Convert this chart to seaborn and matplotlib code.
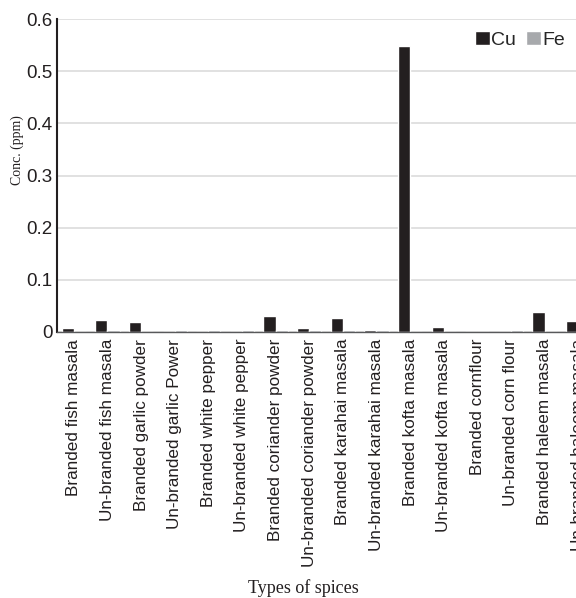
import pandas as pd
import numpy as np
import matplotlib
matplotlib.use('Agg')
import matplotlib.pyplot as plt
import seaborn as sns

# Data
spices = ['Branded fish masala', 'Un-branded fish masala', 'Branded garlic powder',
          'Un-branded garlic Power', 'Branded white pepper', 'Un-branded white pepper',
          'Branded coriander powder', 'Un-branded coriander powder', 'Branded karahai masala',
          'Un-branded karahai masala', 'Branded kofta masala', 'Un-branded kofta masala',
          'Branded cornflour', 'Un-branded corn flour', 'Branded haleem masala',
          'Un-branded haleem masala']
cu = [0.007, 0.023, 0.019, 0.0, 0.0, 0.0, 0.031, 0.007, 0.027, 0.004, 0.548, 0.010,
      0.0, 0.0, 0.038, 0.021]
fe = [0.0, 0.004, 0.0, 0.004, 0.004, 0.003, 0.003, 0.004, 0.003, 0.003, 0.0, 0.0,
      0.0, 0.004, 0.0, 0.0]
y_ticks = [0, 0.1, 0.2, 0.3, 0.4, 0.5, 0.6]
y_tick_labels = ['0', '0.1', '0.2', '0.3', '0.4', '0.5', '0.6']

df = pd.DataFrame({'Spice': spices * 2,
                   'Metal': ['Cu'] * len(spices) + ['Fe'] * len(spices),
                   'Conc': cu + fe})

sns.set_style('white')
plt.rcParams['font.family'] = ['Liberation Sans', 'DejaVu Sans']

fig = plt.figure(figsize=(5.76, 5.98), dpi=100)
ax = fig.add_axes([0.099, 0.445, 0.934, 0.523])

sns.barplot(data=df, x='Spice', y='Conc', hue='Metal', order=spices,
            palette={'Cu': '#231f20', 'Fe': '#a7a9ac'}, width=0.72, gap=0,
            saturation=1, errorbar=None, ax=ax, legend=True)

ax.set_xlim(-0.5, len(spices) - 0.5)
ax.set_ylim(0, 0.6)
ax.set_yticks(y_ticks)
ax.set_yticklabels(y_tick_labels, fontsize=13.5, color='#231f20')
ax.tick_params(axis='x', labelrotation=90, labelsize=12.3, length=0, pad=5, labelcolor='#231f20')
ax.tick_params(axis='y', length=0, pad=3)
ax.yaxis.grid(True, color='#dcdcdc', linewidth=1.2)
ax.set_axisbelow(True)
for s in ['top', 'right']:
    ax.spines[s].set_visible(False)
ax.spines['left'].set_color('#231f20')
ax.spines['left'].set_linewidth(1.5)
ax.spines['bottom'].set_color('#58595b')
ax.spines['bottom'].set_linewidth(1.0)
ax.set_xlabel('')
ax.set_ylabel('')

ax.legend(loc='center right', bbox_to_anchor=(0.995, 0.933), bbox_transform=fig.transFigure,
          ncol=2, frameon=False, fontsize=14, handlelength=0.75, handleheight=0.75,
          handletextpad=0.1, columnspacing=0.5, borderaxespad=0)

fig.text(0.030, 0.749, 'Conc. (ppm)', rotation=90, ha='center', va='center',
         fontsize=10, family='Liberation Serif', color='#231f20')
fig.text(0.526, 0.016, 'Types of spices', ha='center', va='center',
         fontsize=13, family='Liberation Serif', color='#231f20')

plt.savefig('out.png', dpi=100)
